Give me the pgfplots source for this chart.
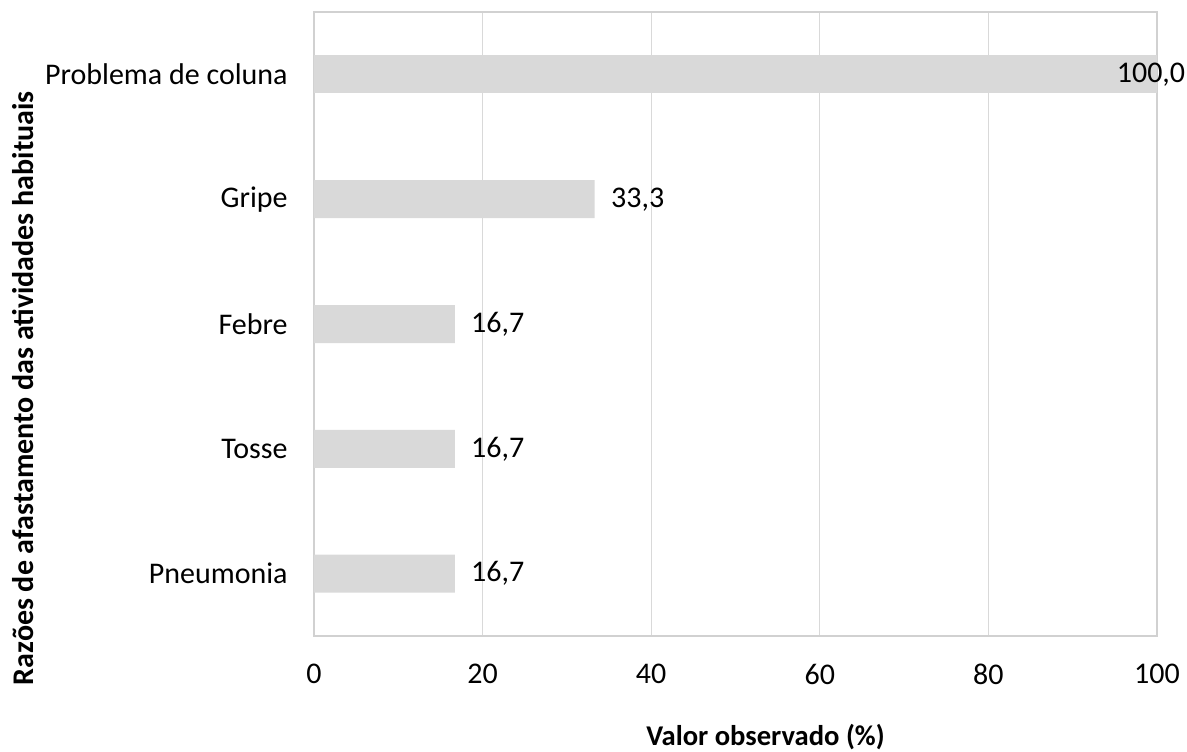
\documentclass[border=0pt]{standalone}
\usepackage{pgfplots}
\pgfplotsset{compat=1.18}
\usepackage{fontspec}
\setmainfont{Carlito}
\begin{document}
\fontsize{15}{18}\selectfont
\begin{tikzpicture}
\useasboundingbox (-157pt,-57.5pt) rectangle (436.5pt,318pt);
\begin{axis}[
  at={(0,0)}, anchor=south west,
  scale only axis,
  width=421.5pt, height=312pt,
  xbar, bar shift=0pt, bar width=19pt,
  xmin=0, xmax=100,
  ymin=-0.5, ymax=4.5,
  xtick={0,20,40,60,80,100},
  ytick={0,1,2,3,4},
  yticklabels={Pneumonia,Tosse,Febre,Gripe,Problema de coluna},
  major tick length=0pt,
  tick style={draw=none},
  xmajorgrids, major grid style={draw=black!15, line width=0.6pt},
  axis line style={draw=black!18, line width=0.8pt},
  /pgf/number format/assume math mode=true,
  ticklabel style={font=\fontsize{15}{18}\selectfont, text=black},
  xticklabel style={yshift=-9pt},
  yticklabel style={xshift=-8pt},
  xlabel={Valor observado (\%)},
  ylabel={Razões de afastamento das atividades habituais},
  xlabel style={at={([xshift=15pt,yshift=-50.5pt]axis description cs:0.5,0)}, anchor=center, font=\fontsize{14.3}{17}\selectfont\bfseries},
  ylabel style={at={([xshift=-145.5pt]axis description cs:0,0.397)}, anchor=center, rotate=0, font=\fontsize{15}{18}\selectfont\bfseries},
  nodes near coords={\pgfmathprintnumber[fixed,fixed zerofill,precision=1,use comma,assume math mode=true]{\pgfplotspointmeta}},
  nodes near coords style={font=\fontsize{15}{18}\selectfont, text=black},
  clip=false,
]
\addplot[fill=black!15, draw=none, nodes near coords style={anchor=west, xshift=3pt}]
  coordinates {(16.7,0) (16.7,1) (16.7,2) (33.3,3)};
\addplot[fill=black!15, draw=none, nodes near coords style={anchor=center, xshift=-3pt}]
  coordinates {(100,4)};
\end{axis}
\end{tikzpicture}
\end{document}
